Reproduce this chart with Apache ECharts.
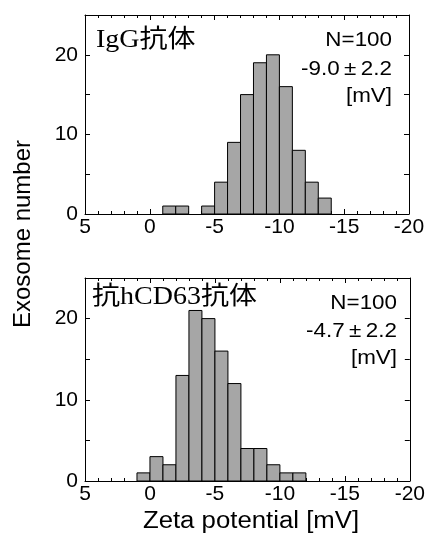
<!DOCTYPE html>
<html>
<head>
<meta charset="utf-8">
<script src="https://cdn.jsdelivr.net/npm/echarts@6/dist/echarts.min.js"></script>
<style>
  html, body { margin: 0; padding: 0; background: #fff; }
  #chart { width: 428px; height: 536px; }
</style>
</head>
<body>
<div id="chart"></div>
<script>
// bin start (upper edge) of each 1 mV bin, bins run from start to start-1
const iggBins = [-1, -2, -3, -4, -5, -6, -7, -8, -9, -10, -11, -12, -13]
const iggCounts = [1, 1, 0, 1, 4, 9, 15, 19, 20, 16, 8, 4, 2]
const cd63Bins = [1, 0, -1, -2, -3, -4, -5, -6, -7, -8, -9, -10, -11]
const cd63Counts = [1, 3, 2, 13, 21, 20, 16, 12, 4, 4, 2, 1, 1]
const yTickLabels = [0, 10, 20]

const sans = 'Liberation Sans, Arial, sans-serif'
const serif = 'Liberation Serif, Noto Sans CJK JP, serif'
const black = '#000'
const stretch = 1.12 // reference text is a bit wide

function pairs (bins, counts) {
  return bins.map((b, i) => [b, counts[i]])
}

function xAxisFor (grid, pos, withLabels) {
  return {
    type: 'value',
    gridIndex: grid,
    position: pos,
    min: -20,
    max: 5,
    interval: 5,
    inverse: true,
    axisLine: { show: true, onZero: false, lineStyle: { color: black, width: 1 } },
    axisTick: { show: true, inside: true, length: 5, lineStyle: { color: black } },
    minorTick: { show: true, splitNumber: 5, length: 3, lineStyle: { color: black } },
    splitLine: { show: false },
    axisLabel: {
      show: withLabels,
      margin: 3,
      color: black,
      fontFamily: sans,
      fontSize: 21
    }
  }
}

function yAxisFor (grid, pos, withLabels) {
  return {
    type: 'value',
    gridIndex: grid,
    position: pos,
    min: 0,
    max: 25,
    interval: 5,
    axisLine: { show: true, onZero: false, lineStyle: { color: black, width: 1 } },
    axisTick: { show: true, inside: true, length: 5, lineStyle: { color: black } },
    splitLine: { show: false },
    axisLabel: {
      show: withLabels,
      margin: 7,
      color: black,
      fontFamily: sans,
      fontSize: 21,
      formatter: v => (yTickLabels.indexOf(v) >= 0 ? String(v) : '')
    }
  }
}

function histSeries (idx, data) {
  return {
    type: 'custom',
    xAxisIndex: idx * 2,
    yAxisIndex: idx * 2,
    data: data,
    encode: { x: 0, y: 1 },
    renderItem (params, api) {
      const start = api.value(0)
      const count = api.value(1)
      if (!count) return
      const p0 = api.coord([start, count])
      const p1 = api.coord([start - 1, 0])
      return {
        type: 'rect',
        shape: {
          x: Math.min(p0[0], p1[0]),
          y: p0[1],
          width: Math.abs(p1[0] - p0[0]),
          height: p1[1] - p0[1]
        },
        style: { fill: '#a6a6a6', stroke: black, lineWidth: 1 }
      }
    }
  }
}

function label (text, x, y, font, align, rot) {
  return {
    type: 'text',
    x: x,
    y: y,
    rotation: rot || 0,
    scaleX: rot ? 1 : stretch,
    style: { text: text, font: font, fill: black, align: align, verticalAlign: 'middle' }
  }
}

const chart = echarts.init(document.getElementById('chart'))
chart.setOption({
  animation: false,
  backgroundColor: '#fff',
  grid: [
    { left: 85, top: 15, right: 19, height: 199 },
    { left: 85, top: 278, right: 17, height: 203 }
  ],
  xAxis: [
    xAxisFor(0, 'bottom', true), xAxisFor(0, 'top', false),
    xAxisFor(1, 'bottom', true), xAxisFor(1, 'top', false)
  ],
  yAxis: [
    yAxisFor(0, 'left', true), yAxisFor(0, 'right', false),
    yAxisFor(1, 'left', true), yAxisFor(1, 'right', false)
  ],
  graphic: [
    label('IgG抗体', 96, 40, '25px ' + serif, 'left'),
    label('N=100', 392, 40, '20px ' + sans, 'right'),
    label('-9.0\u2009±\u20092.2', 392, 69, '20px ' + sans, 'right'),
    label('[mV]', 392, 96, '20px ' + sans, 'right'),
    label('抗hCD63抗体', 92, 297, '25px ' + serif, 'left'),
    label('N=100', 397, 303, '20px ' + sans, 'right'),
    label('-4.7\u2009±\u20092.2', 397, 331, '20px ' + sans, 'right'),
    label('[mV]', 397, 358, '20px ' + sans, 'right'),
    label('Exosome number', 23, 234, '24px ' + sans, 'center', Math.PI / 2),
    label('Zeta potential [mV]', 251, 522, '23px ' + sans, 'center')
  ],
  series: [
    histSeries(0, pairs(iggBins, iggCounts)),
    histSeries(1, pairs(cd63Bins, cd63Counts))
  ]
})
</script>
</body>
</html>
